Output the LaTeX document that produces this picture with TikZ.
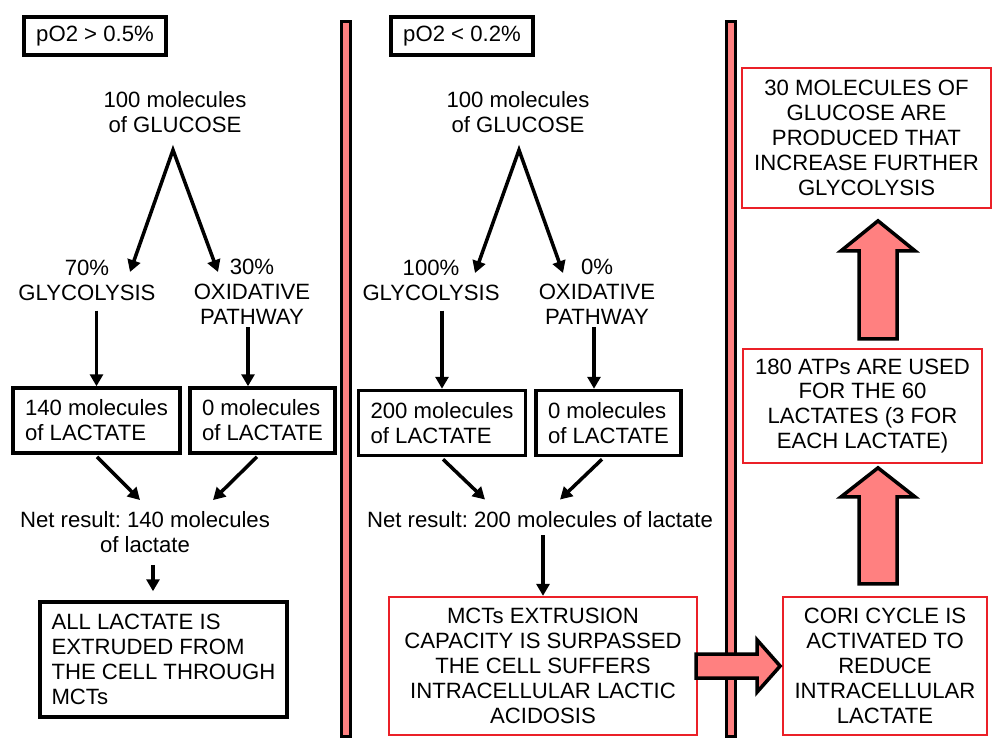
\documentclass[tikz,border=0pt]{standalone}
\usepackage{fontspec}
\setmainfont{Liberation Sans}
\usepackage{xcolor}
\usepackage{tikz}
\usetikzlibrary{calc}
\usetikzlibrary{arrows.meta}
\definecolor{salmon}{RGB}{255,128,128}
\definecolor{boxred}{RGB}{235,32,40}
\frenchspacing

\begin{document}
\begin{tikzpicture}[x=0.2mm,y=-0.2mm,
        txt/.style={font=\fontsize{12.6pt}{14.2pt}\selectfont, align=center, inner sep=0pt},
        blackbox/.style={txt, draw, line width=2pt},
        redbox/.style={txt, draw=boxred, line width=1.3pt},
        arr/.style={line width=2pt, -{Triangle[length=2.4mm,width=2.6mm]}},
        fork/.style={line width=2pt, {Triangle[length=2.4mm,width=2.6mm]}-{Triangle[length=2.4mm,width=2.6mm]}},
        fatarr/.style={draw, line width=2pt, fill=salmon, line join=miter},
        divider/.style={draw, line width=2pt, fill=salmon}]
        \useasboundingbox (0,0) rectangle (1000,754);

        %DIVIDERS
        \draw[divider] (341.5,21.5) rectangle (350.5,736.5);
        \draw[divider] (726.5,21.5) rectangle (735.5,736.5);

        %PO2 > 0.5%
        \node[blackbox, minimum width=28.4mm, minimum height=7.6mm] (cond1) at (95,36) {pO2 > 0.5\%};
        \node[txt] (glu1) at (175,112) {100 molecules\\of GLUCOSE};
        \node[txt] (gly1) at (87,280) {70\%\\GLYCOLYSIS};
        \node[txt] (oxi1) at (252,292) {30\%\\OXIDATIVE\\PATHWAY};
        \node[blackbox, align=left, minimum width=33.4mm, minimum height=13mm] (lac1) at (96.5,420.5) {140 molecules\\of LACTATE};
        \node[blackbox, align=left, minimum width=29mm, minimum height=13mm] (lac2) at (262.5,420.5) {0 molecules\\of LACTATE};
        \node[txt] (net1) at (145,532) {Net result: 140 molecules\\of lactate};
        \node[blackbox, align=left, minimum width=49.4mm, minimum height=23mm] (ext1) at (163.5,659.5) {ALL LACTATE IS\\EXTRUDED FROM\\THE CELL THROUGH\\MCTs};

        \draw[fork] ($(gly1)+(43,-8)$) -- ($(glu1)+(-2,38)$) -- ($(oxi1)+(-34,-20)$);
        \draw[arr] ($(lac1.north |- gly1.south)+(0,10)$) -- (lac1.north);
        \draw[arr] ($(oxi1.south)+(-4,2)$) -- ($(lac2.north)+(-14.5,0)$);
        \draw[arr] ($(lac1.south)+(0.5,2)$) -- ($(net1.north)+(-5,-11)$);
        \draw[arr] ($(lac2.south)+(-5.5,2)$) -- ($(net1.north)+(68,-11)$);
        \draw[arr] ($(net1.south)+(8,12)$) -- ($(ext1.north)+(-10.5,-9)$);

        %PO2 < 0.2%
        \node[blackbox, minimum width=28.4mm, minimum height=7.6mm] (cond2) at (462,36) {pO2 < 0.2\%};
        \node[txt] (glu2) at (518,112) {100 molecules\\of GLUCOSE};
        \node[txt] (gly2) at (431,280) {100\%\\GLYCOLYSIS};
        \node[txt] (oxi2) at (597,292) {0\%\\OXIDATIVE\\PATHWAY};
        \node[blackbox, align=left, minimum width=33.4mm, minimum height=13mm] (lac3) at (442,423) {200 molecules\\of LACTATE};
        \node[blackbox, align=left, minimum width=29mm, minimum height=13mm] (lac4) at (608.5,423) {0 molecules\\of LACTATE};
        \node[txt] (net2) at (540,520) {Net result: 200 molecules of lactate};
        \node[redbox, minimum width=61.6mm, minimum height=27.6mm] (acid) at (543,666) {MCTs EXTRUSION\\CAPACITY IS SURPASSED\\THE CELL SUFFERS\\INTRACELLULAR LACTIC\\ACIDOSIS};

        \draw[fork] ($(gly2)+(44,-7)$) -- ($(glu2)+(1,38)$) -- ($(oxi2)+(-34,-19)$);
        \draw[arr] ($(lac3.north |- gly2.south)+(0,10)$) -- (lac3.north);
        \draw[arr] ($(oxi2.south)+(-3,2)$) -- ($(lac4.north)+(-14.5,0)$);
        \draw[arr] ($(lac3.south)+(1,2)$) -- ($(net2.north)+(-55,-12)$);
        \draw[arr] ($(lac4.south)+(-6.5,2)$) -- ($(net2.north)+(20,-12)$);
        \draw[arr] ($(acid.north |- net2.south)+(0,7)$) -- (acid.north);

        %CORI CYCLE
        \node[redbox, minimum width=49.8mm, minimum height=28mm] (gluc) at (866.5,138) {30 MOLECULES OF\\GLUCOSE ARE\\PRODUCED THAT\\INCREASE FURTHER\\GLYCOLYSIS};
        \node[redbox, minimum width=47.8mm, minimum height=22.8mm] (atp) at (862.5,406) {180 ATPs ARE USED\\FOR THE 60\\LACTATES (3 FOR\\EACH LACTATE)};
        \node[redbox, minimum width=40.8mm, minimum height=27.6mm] (cori) at (885,666) {CORI CYCLE IS\\ACTIVATED TO\\REDUCE\\INTRACELLULAR\\LACTATE};

        %BIG ARROWS
        \draw[fatarr] ($(acid.east)+(-2,-12)$) -- ++(61,0) -- ++(0,-14) -- ++(23,26) -- ++(-23,26) -- ++(0,-14) -- ++(-61,0) -- cycle;
        \draw[fatarr] ($(cori.north)+(-26,-12)$) -- ++(0,-87) -- ++(-18,0) -- ++(37,-29) -- ++(37,29) -- ++(-18,0) -- ++(0,87) -- cycle;
        \draw[fatarr] ($(atp.north)+(-3.5,-9)$) -- ++(0,-88) -- ++(-18,0) -- ++(37,-30) -- ++(37,30) -- ++(-18,0) -- ++(0,88) -- cycle;
    \end{tikzpicture}
\end{document}
